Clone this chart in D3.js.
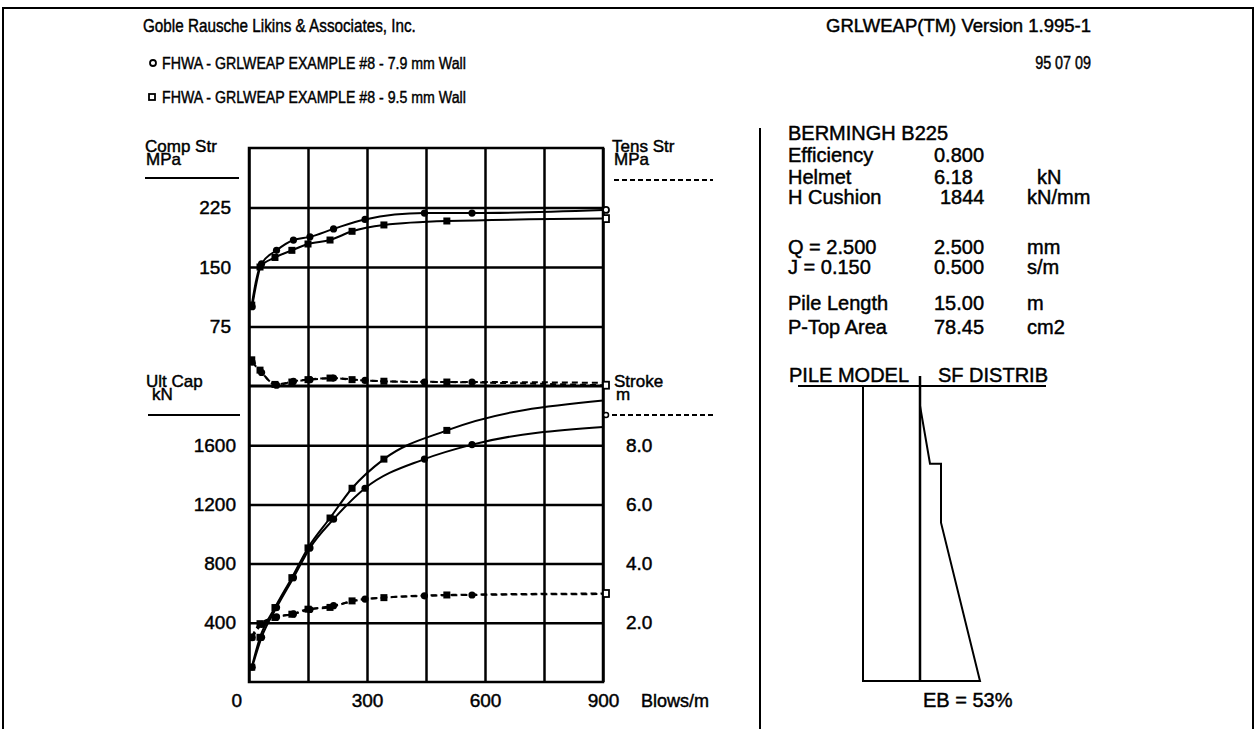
<!DOCTYPE html>
<html><head><meta charset="utf-8">
<script src="https://cdn.jsdelivr.net/npm/d3@7/dist/d3.min.js"></script>
<style>
html,body{margin:0;padding:0;background:#fff;}
svg{display:block;}
text{font-family:"Liberation Sans", Arial, Helvetica, sans-serif; fill:#000; stroke:#000; stroke-width:0.45px;}
</style></head><body>
<svg id="c" width="1257" height="729" font-size="15"></svg>
<script>
// ---------------- DATA ----------------
const headerTitle = "Goble Rausche Likins & Associates, Inc.";
const headerVersion = "GRLWEAP(TM) Version 1.995-1";
const headerDate = "95 07 09";
const seriesNames = ["FHWA - GRLWEAP EXAMPLE #8 - 7.9 mm Wall", "FHWA - GRLWEAP EXAMPLE #8 - 9.5 mm Wall"];

// blow counts (Blows/m); last value is the end of the curve at 900
const blowsCircle = [8, 32, 70, 113, 155, 215, 295, 446, 567, 900];
const blowsSquare = [7, 28, 66, 109, 150, 206, 262, 343, 503, 900];

const compStrCircle = [100, 154, 171, 184, 188, 198, 210, 218, 218, 222];
const compStrSquare = [102, 150, 162, 171, 179, 184, 195, 203, 208, 211];

const tensStrCircle = [30, 17, 1, 6, 8, 10, 7, 5, 5, 4];
const tensStrSquare = [33, 20, 2, 5, 8, 10, 8, 6, 5, 1];

const ultCapCircle = [100, 302, 503, 705, 906, 1100, 1309, 1506, 1604, 1723];
const ultCapSquare = [100, 302, 503, 705, 906, 1108, 1309, 1506, 1700, 1902];

const strokeCircle = [1.50, 1.95, 2.20, 2.30, 2.45, 2.58, 2.80, 2.91, 2.94, 2.97];
const strokeSquare = [1.52, 1.97, 2.18, 2.29, 2.46, 2.52, 2.74, 2.85, 2.94, 2.99];

const blowTicks = [0, 150, 300, 450, 600, 750, 900];
const blowLabels = [300, 600, 900];
const compTicks = [75, 150, 225];
const capTicks = [400, 800, 1200, 1600];
const strokeTicks = [2, 4, 6, 8];

const hammerName = "BERMINGH  B225";
const paramLabels = ["Efficiency", "Helmet", "H Cushion", "Q = 2.500", "J = 0.150", "Pile Length", "P-Top Area"];
const paramValues = ["0.800", "6.18", "1844", "2.500", "0.500", "15.00", "78.45"];
const paramUnits = ["", "kN", "kN/mm", "mm", "s/m", "m", "cm2"];

// skin friction distribution along pile (depth m, relative resistance)
const sfDepth = [1.0, 3.95, 3.95, 6.95, 15.0];
const sfValue = [0, 10, 21, 21, 60];
const ebText = "EB = 53%";

// ---------------- DRAW ----------------
const svg = d3.select("#c");
const K = "#000";
const FS_TICK = 19, FS_TITLE = 17, FS_RP = 20;

// page frame
svg.append("path").attr("d", "M3,729 V8 H1253 V729").attr("fill", "none").attr("stroke", K).attr("stroke-width", 2);
svg.append("line").attr("x1", 760).attr("x2", 760).attr("y1", 128).attr("y2", 729).attr("stroke", K).attr("stroke-width", 2);

// header (narrow face)
function narrowText(xp, y, size, str, anchor) {
  return svg.append("text").attr("transform", `translate(${xp},${y}) scale(0.82,1)`)
    .attr("font-size", size).attr("text-anchor", anchor || "start").text(str);
}
narrowText(143, 32, 18.6, headerTitle);
svg.append("text").attr("x", 1091).attr("y", 32).attr("text-anchor", "end").attr("font-size", 18.5).text(headerVersion);
narrowText(1091, 69, 17.5, headerDate, "end");
svg.append("circle").attr("cx", 153).attr("cy", 63).attr("r", 3).attr("fill", "#fff").attr("stroke", K).attr("stroke-width", 1.8);
narrowText(162, 69, 17.3, seriesNames[0]);
svg.append("rect").attr("x", 149).attr("y", 94).attr("width", 6).attr("height", 6).attr("fill", "#fff").attr("stroke", K).attr("stroke-width", 1.8);
narrowText(162, 103, 17.3, seriesNames[1]);

// scales
const X0 = 249, X1 = 603, YT = 148, YS = 386, YB = 682;
const x = d3.scaleLinear().domain([0, 900]).range([X0, X1]);
const yComp = d3.scaleLinear().domain([0, 300]).range([YS, YT]);
const yCap = d3.scaleLinear().domain([0, 2000]).range([YB, YS]);
const yStroke = d3.scaleLinear().domain([0, 10]).range([YB, YS]);

const g = svg.append("g");

function styleAxis(sel) {
  sel.attr("font-size", FS_TICK).attr("font-family", null);
  sel.select(".domain").remove();
  sel.selectAll(".tick line").attr("stroke", K).attr("stroke-width", 2.5);
  sel.selectAll(".tick text").attr("fill", K);
}

// vertical grid
g.append("g").attr("transform", `translate(0,${YB})`)
  .call(d3.axisBottom(x).tickValues(blowTicks).tickSize(-(YB - YT)).tickFormat(""))
  .call(styleAxis);
// x labels
g.append("g").attr("transform", `translate(0,${YB})`)
  .call(d3.axisBottom(x).tickValues(blowLabels).tickSize(0).tickPadding(12).tickFormat(d3.format("d")))
  .call(styleAxis);
svg.append("text").attr("x", 641).attr("y", 707).attr("font-size", 18).text("Blows/m");
svg.append("text").attr("x", 242).attr("y", 707).attr("font-size", FS_TICK).attr("text-anchor", "end").text("0");

// upper (comp stress) axis with grid
g.append("g").attr("transform", `translate(${X0},0)`)
  .call(d3.axisLeft(yComp).tickValues(compTicks).tickSizeInner(-(X1 - X0)).tickSizeOuter(0).tickPadding(18).tickFormat(d3.format("d")))
  .call(styleAxis);
// lower (ult cap) axis with grid
g.append("g").attr("transform", `translate(${X0},0)`)
  .call(d3.axisLeft(yCap).tickValues(capTicks).tickSizeInner(-(X1 - X0)).tickSizeOuter(0).tickPadding(13).tickFormat(d3.format("d")))
  .call(styleAxis);
// stroke right axis
g.append("g").attr("transform", `translate(${X1},0)`)
  .call(d3.axisRight(yStroke).tickValues(strokeTicks).tickSize(0).tickPadding(23).tickFormat(d3.format(".1f")))
  .call(styleAxis);

// border + separator
g.append("rect").attr("x", X0).attr("y", YT).attr("width", X1 - X0).attr("height", YB - YT)
  .attr("fill", "none").attr("stroke", K).attr("stroke-width", 2.5);
g.append("line").attr("x1", X0).attr("x2", X1).attr("y1", yComp(0)).attr("y2", yComp(0)).attr("stroke", K).attr("stroke-width", 3);

// axis titles
function title2(xp, y, a, b, bx) {
  svg.append("text").attr("x", xp).attr("y", y).attr("font-size", FS_TITLE).text(a);
  svg.append("text").attr("x", bx).attr("y", y + 13).attr("font-size", FS_TITLE).text(b);
}
title2(145, 152, "Comp Str", "MPa", 146);
svg.append("line").attr("x1", 145).attr("x2", 239).attr("y1", 178).attr("y2", 178).attr("stroke", K).attr("stroke-width", 2);
title2(612, 152, "Tens Str", "MPa", 614);
svg.append("line").attr("x1", 614).attr("x2", 713).attr("y1", 180).attr("y2", 180).attr("stroke", K).attr("stroke-width", 1.8).attr("stroke-dasharray", "5,3");
title2(146, 387, "Ult Cap", "kN", 152);
svg.append("line").attr("x1", 148).attr("x2", 240).attr("y1", 415).attr("y2", 415).attr("stroke", K).attr("stroke-width", 2);
title2(614, 387, "Stroke", "m", 616);
svg.append("line").attr("x1", 612).attr("x2", 713).attr("y1", 415).attr("y2", 415).attr("stroke", K).attr("stroke-width", 1.8).attr("stroke-dasharray", "5,3");
svg.append("circle").attr("cx", 606).attr("cy", 415).attr("r", 2.5).attr("fill", "#fff").attr("stroke", K).attr("stroke-width", 1.5);

// series drawing
function drawSeries(blows, vals, yScale, dashed, shape, endMarker) {
  const pts = blows.map((b, i) => [x(b), yScale(vals[i])]);
  const line = d3.line().curve(d3.curveMonotoneX);
  g.append("path").attr("d", line(pts)).attr("fill", "none").attr("stroke", K)
    .attr("stroke-width", 2).attr("stroke-dasharray", dashed ? "6,4" : null);
  pts.slice(0, pts.length - 1).forEach(p => {
    if (shape === "circle") {
      g.append("circle").attr("cx", p[0]).attr("cy", p[1]).attr("r", 3.6).attr("fill", K);
    } else {
      g.append("rect").attr("x", p[0] - 3.5).attr("y", p[1] - 3.5).attr("width", 7).attr("height", 7).attr("fill", K);
    }
  });
  if (endMarker) {
    const p = pts[pts.length - 1];
    if (shape === "circle") {
      g.append("circle").attr("cx", p[0] + 3).attr("cy", p[1]).attr("r", 3).attr("fill", "#fff").attr("stroke", K).attr("stroke-width", 1.8);
    } else {
      g.append("rect").attr("x", p[0]).attr("y", p[1] - 3.5).attr("width", 6).attr("height", 7).attr("fill", "#fff").attr("stroke", K).attr("stroke-width", 1.8);
    }
  }
}
drawSeries(blowsCircle, compStrCircle, yComp, false, "circle", true);
drawSeries(blowsSquare, compStrSquare, yComp, false, "square", true);
drawSeries(blowsCircle, tensStrCircle, yComp, true, "circle", false);
drawSeries(blowsSquare, tensStrSquare, yComp, true, "square", true);
drawSeries(blowsCircle, ultCapCircle, yCap, false, "circle", false);
drawSeries(blowsSquare, ultCapSquare, yCap, false, "square", false);
drawSeries(blowsCircle, strokeCircle, yStroke, true, "circle", false);
drawSeries(blowsSquare, strokeSquare, yStroke, true, "square", true);

// right panel
svg.append("text").attr("x", 788).attr("y", 140).attr("font-size", FS_RP).text(hammerName);
const rowY = [162, 184, 204, 254, 274, 310, 334];
paramLabels.forEach((t, i) => {
  svg.append("text").attr("x", 788).attr("y", rowY[i]).attr("font-size", FS_RP).text(t);
  svg.append("text").attr("x", i === 2 ? 940 : 934).attr("y", rowY[i]).attr("font-size", FS_RP).text(paramValues[i]);
  svg.append("text").attr("x", i === 1 ? 1037 : 1027).attr("y", rowY[i]).attr("font-size", FS_RP).text(paramUnits[i]);
});
svg.append("text").attr("x", 789).attr("y", 382).attr("font-size", FS_RP).text("PILE MODEL");
svg.append("text").attr("x", 938).attr("y", 382).attr("font-size", FS_RP).text("SF DISTRIB");
svg.append("line").attr("x1", 798).attr("x2", 1046).attr("y1", 386).attr("y2", 386).attr("stroke", K).attr("stroke-width", 2);

const yPile = d3.scaleLinear().domain([0, 15]).range([386, 681]);
const xSF = d3.scaleLinear().domain([0, 100]).range([920, 1020]);
// pile
svg.append("path").attr("d", `M863,${yPile(0)} V${yPile(15)} H920`).attr("fill", "none").attr("stroke", K).attr("stroke-width", 2);
svg.append("line").attr("x1", 920).attr("x2", 920).attr("y1", 376).attr("y2", yPile(15)).attr("stroke", K).attr("stroke-width", 2.5);
// SF distribution
const sfPts = sfDepth.map((d, i) => [xSF(sfValue[i]), yPile(d)]);
sfPts.push([xSF(0), yPile(15)]);
svg.append("path").attr("d", d3.line()(sfPts)).attr("fill", "none").attr("stroke", K).attr("stroke-width", 2);
svg.append("text").attr("x", 923).attr("y", 707).attr("font-size", FS_RP).text(ebText);
</script>
</body></html>
